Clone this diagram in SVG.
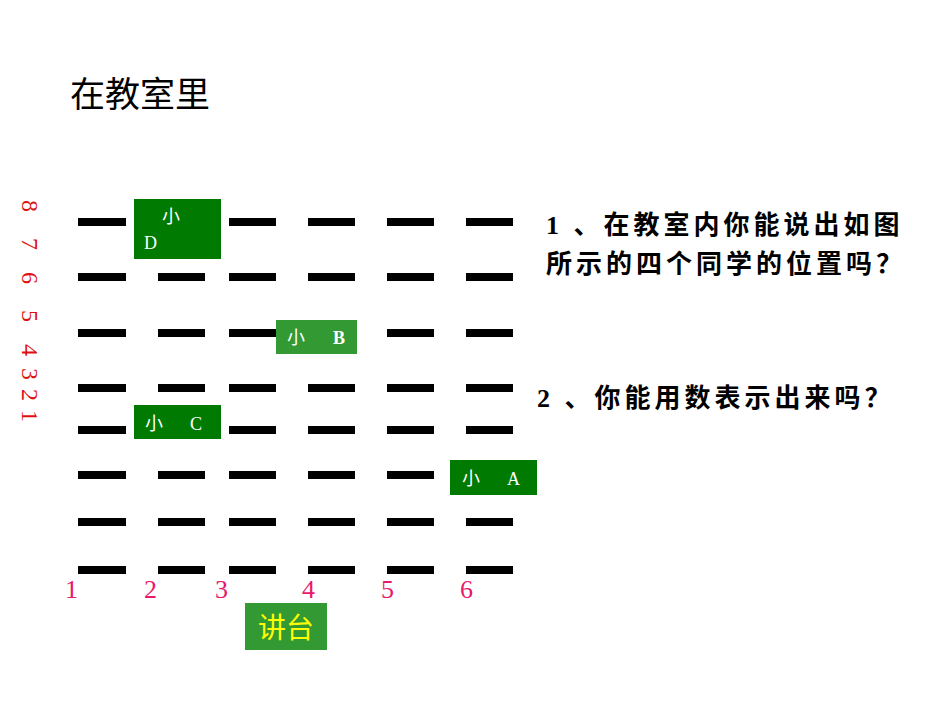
<svg xmlns="http://www.w3.org/2000/svg" width="950" height="713" viewBox="0 0 950 713">
<style>
.d{fill:#000}
.t{font-family:"Liberation Serif","Noto Sans CJK SC",serif}
.w{fill:#fff;font-size:18px}
.q{font-family:"Liberation Serif","Noto Sans CJK SC",serif;font-size:26px;font-weight:bold;fill:#000;letter-spacing:4px}
.n{font-family:"Liberation Serif",serif;font-size:26px;fill:#e8186a}
.r{font-family:"Liberation Serif",serif;font-size:24px;fill:#e01010}
</style>
<rect width="950" height="713" fill="#fff"/>
<text x="70" y="107" font-family="'Noto Sans CJK SC',sans-serif" font-size="35" fill="#000">在教室里</text>
<g id="grid">
<g class="d">
<rect x="78" y="218" width="48" height="8"/><rect x="229" y="218" width="47" height="8"/><rect x="308" y="218" width="47" height="8"/><rect x="387" y="218" width="47" height="8"/><rect x="466" y="218" width="47" height="8"/>
<rect x="78" y="273" width="48" height="8"/><rect x="158" y="273" width="47" height="8"/><rect x="229" y="273" width="47" height="8"/><rect x="308" y="273" width="47" height="8"/><rect x="387" y="273" width="47" height="8"/><rect x="466" y="273" width="47" height="8"/>
<rect x="78" y="329" width="48" height="8"/><rect x="158" y="329" width="47" height="8"/><rect x="229" y="329" width="47" height="8"/><rect x="387" y="329" width="47" height="8"/><rect x="466" y="329" width="47" height="8"/>
<rect x="78" y="384" width="48" height="8"/><rect x="158" y="384" width="47" height="8"/><rect x="229" y="384" width="47" height="8"/><rect x="308" y="384" width="47" height="8"/><rect x="387" y="384" width="47" height="8"/><rect x="466" y="384" width="47" height="8"/>
<rect x="78" y="426" width="48" height="8"/><rect x="229" y="426" width="47" height="8"/><rect x="308" y="426" width="47" height="8"/><rect x="387" y="426" width="47" height="8"/><rect x="466" y="426" width="47" height="8"/>
<rect x="78" y="471" width="48" height="8"/><rect x="158" y="471" width="47" height="8"/><rect x="229" y="471" width="47" height="8"/><rect x="308" y="471" width="47" height="8"/><rect x="387" y="471" width="47" height="8"/>
<rect x="78" y="518" width="48" height="8"/><rect x="158" y="518" width="47" height="8"/><rect x="229" y="518" width="47" height="8"/><rect x="308" y="518" width="47" height="8"/><rect x="387" y="518" width="47" height="8"/><rect x="466" y="518" width="47" height="8"/>
<rect x="78" y="566" width="48" height="8"/><rect x="158" y="566" width="47" height="8"/><rect x="229" y="566" width="47" height="8"/><rect x="308" y="566" width="47" height="8"/><rect x="387" y="566" width="47" height="8"/><rect x="466" y="566" width="47" height="8"/>
</g>
</g>
<g id="D"><rect x="134" y="199" width="87" height="60" fill="#007a00"/><text class="t w" x="162" y="223">小</text><text class="t w" x="144" y="249">D</text></g>
<g id="B"><rect x="276" y="320" width="81" height="34" fill="#339933"/><text class="t w" x="287" y="344">小</text><text class="t w" x="333" y="344" font-weight="bold">B</text></g>
<g id="C"><rect x="134" y="405" width="87" height="34" fill="#007a00"/><text class="t w" x="145" y="430">小</text><text class="t w" x="190" y="430">C</text></g>
<g id="A"><rect x="450" y="460" width="87" height="35" fill="#007a00"/><text class="t w" x="462" y="485">小</text><text class="t w" x="507" y="485">A</text></g>
<g id="podium"><rect x="245" y="603" width="82" height="47" fill="#339933"/><text x="286" y="638" text-anchor="middle" font-family="'Noto Sans CJK SC',sans-serif" font-size="28" fill="#ffff00">讲台</text></g>
<g class="r">
<text transform="translate(22,200) rotate(90)">8</text>
<text transform="translate(22,238) rotate(90)">7</text>
<text transform="translate(22,272) rotate(90)">6</text>
<text transform="translate(22,310) rotate(90)">5</text>
<text transform="translate(22,344) rotate(90)">4</text>
<text transform="translate(22,368) rotate(90)">3</text>
<text transform="translate(22,389) rotate(90)">2</text>
<text transform="translate(22,410) rotate(90)">1</text>
</g>
<g class="n"><text x="65" y="598">1</text><text x="144" y="598">2</text><text x="215" y="598">3</text><text x="302" y="598">4</text><text x="381" y="598">5</text><text x="460" y="598">6</text></g>
<text class="q" x="546" y="234">1 、在教室内你能说出如图</text>
<text class="q" x="546" y="273">所示的四个同学的位置吗？</text>
<text class="q" x="537" y="407">2 、你能用数表示出来吗？</text>
</svg>
